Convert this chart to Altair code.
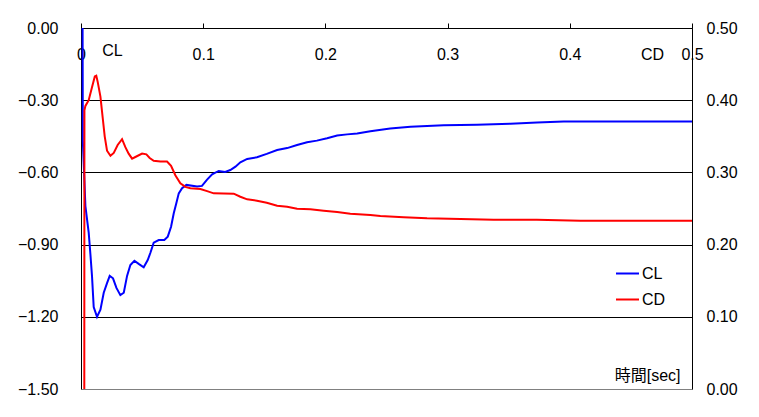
import altair as alt
import pandas as pd

# CL series (time [sec], value)
t_cl = [0.0013, 0.0015, 0.0036, 0.0063, 0.0077, 0.0090, 0.0104, 0.0131, 0.0159, 0.0186,
        0.0213, 0.0235, 0.0262, 0.0290, 0.0322, 0.0350, 0.0377, 0.0404, 0.0437, 0.0472,
        0.0513, 0.0546, 0.0568, 0.0595, 0.0636, 0.0682, 0.0710, 0.0737, 0.0759, 0.0780,
        0.0800, 0.0827, 0.0863, 0.0950, 0.0990, 0.1030, 0.1073, 0.1127, 0.1180, 0.1222,
        0.1264, 0.1304, 0.1360, 0.1440, 0.1520, 0.1605, 0.1687, 0.1768, 0.1850, 0.1930,
        0.2014, 0.2096, 0.2178, 0.2260, 0.2368, 0.2530, 0.2696, 0.2968, 0.3240, 0.3514,
        0.3732, 0.3950, 0.5000]
cl = [0.0, -0.47, -0.74, -0.85, -0.94, -1.03, -1.16, -1.20, -1.17, -1.10,
      -1.06, -1.03, -1.04, -1.08, -1.11, -1.10, -1.03, -0.985, -0.967, -0.98,
      -0.994, -0.964, -0.934, -0.892, -0.881, -0.881, -0.867, -0.826, -0.77, -0.728,
      -0.687, -0.666, -0.652, -0.659, -0.656, -0.631, -0.608, -0.594, -0.598, -0.590,
      -0.576, -0.558, -0.544, -0.537, -0.523, -0.507, -0.499, -0.486, -0.475, -0.468,
      -0.458, -0.447, -0.442, -0.438, -0.429, -0.418, -0.410, -0.404, -0.402, -0.398,
      -0.393, -0.389, -0.389]

# CD series (time [sec], value)
t_cd = [0.0027, 0.0028, 0.0036, 0.0063, 0.0090, 0.0113, 0.0125, 0.0137, 0.0159, 0.0178,
        0.0194, 0.0213, 0.0241, 0.0268, 0.0300, 0.0336, 0.0363, 0.0390, 0.0418, 0.0453,
        0.0500, 0.0535, 0.0562, 0.0595, 0.0650, 0.0704, 0.0737, 0.0772, 0.0813, 0.0854,
        0.0895, 0.0977, 0.1032, 0.1086, 0.1250, 0.1304, 0.1360, 0.1440, 0.1520, 0.1605,
        0.1687, 0.1768, 0.1877, 0.1986, 0.2096, 0.2204, 0.2368, 0.2450, 0.2640, 0.2832,
        0.3105, 0.3377, 0.3730, 0.4087, 0.4496, 0.5000]
cd = [0.0, 0.386, 0.392, 0.400, 0.418, 0.433, 0.434, 0.425, 0.405, 0.375,
      0.350, 0.330, 0.323, 0.327, 0.338, 0.346, 0.335, 0.326, 0.319, 0.322,
      0.326, 0.325, 0.320, 0.316, 0.315, 0.315, 0.309, 0.296, 0.285, 0.280,
      0.278, 0.277, 0.274, 0.271, 0.2705, 0.2663, 0.2627, 0.2608, 0.258, 0.2538,
      0.2525, 0.2497, 0.249, 0.247, 0.245, 0.2428, 0.241, 0.2396, 0.2378, 0.2364,
      0.2355, 0.2345, 0.2345, 0.2332, 0.2332, 0.2332]

x_ticks = [0, 0.1, 0.2, 0.3, 0.4, 0.5]
cl_ticks = [-1.5, -1.2, -0.9, -0.6, -0.3, 0.0]
cd_ticks = [0.0, 0.1, 0.2, 0.3, 0.4, 0.5]
series = ["CL", "CD"]
colors = ["#0000ff", "#ff0000"]

df_cl = pd.DataFrame({"t": t_cl, "CL": cl, "series": "CL"})
df_cd = pd.DataFrame({"t": t_cd, "CD": cd, "series": "CD"})

FONT = "Liberation Sans, 'Noto Sans CJK JP'"
FS = 16

color = alt.Color(
    "series:N",
    scale=alt.Scale(domain=series, range=colors),
    legend=alt.Legend(
        orient="none", legendX=534, legendY=233, title=None,
        symbolType="stroke", symbolSize=529, symbolStrokeWidth=2,
        labelFontSize=FS, labelOffset=2, rowPadding=5, padding=0,
        labelColor="black", labelFont=FONT,
    ),
)

x = alt.X(
    "t:Q",
    scale=alt.Scale(domain=[0, 0.5], nice=False),
    axis=alt.Axis(
        orient="top", values=x_ticks, format="~g", grid=False,
        tickSize=5, tickColor="black", domainColor="black",
        labelPadding=-39, labelFlush=False, labelFontSize=FS, labelColor="black",
        title="時間[sec]", titleX=599, titleY=347, titleAlign="right",
        titleBaseline="middle", titleFontWeight="normal", titleFontSize=FS,
        titleColor="black",
    ),
)

left = alt.Chart(df_cl).mark_line(strokeWidth=2).encode(
    x=x,
    y=alt.Y(
        "CL:Q",
        scale=alt.Scale(domain=[-1.5, 0], nice=False),
        axis=alt.Axis(
            values=cl_ticks, format=".2f", ticks=False, labelPadding=23,
            labelFontSize=FS, labelColor="black", domainColor="black",
            grid=True,
            gridColor={"condition": {"test": "datum.value == -1.5", "value": "#808080"}, "value": "black"},
            gridOpacity=1,
            title="CL", titleAngle=0, titleX=31, titleY=22, titleAlign="center",
            titleBaseline="middle", titleFontWeight="normal", titleFontSize=FS,
            titleColor="black",
        ),
    ),
    color=color,
    order=alt.Order("t:Q"),
)

right = alt.Chart(df_cd).mark_line(strokeWidth=2).encode(
    x=x,
    y=alt.Y(
        "CD:Q",
        scale=alt.Scale(domain=[0, 0.5], nice=False),
        axis=alt.Axis(
            orient="right", values=cd_ticks, format=".2f", ticks=False,
            labelPadding=14, labelFontSize=FS, labelColor="black",
            domainColor="black", grid=False,
            title="CD", titleAngle=0, titleX=-40, titleY=26, titleAlign="center",
            titleBaseline="middle", titleFontWeight="normal", titleFontSize=FS,
            titleColor="black",
        ),
    ),
    color=color,
    order=alt.Order("t:Q"),
)

chart = (
    alt.layer(left, right)
    .resolve_scale(y="independent")
    .properties(
        width=611, height=361,
        autosize=alt.AutoSizeParams(type="none"),
        padding={"left": 73, "top": 20, "right": 59, "bottom": 20},
    )
    .configure_view(stroke=None)
    .configure(font=FONT, background="white")
)

chart.save("out.html", embed_options={"renderer": "svg", "actions": False})
